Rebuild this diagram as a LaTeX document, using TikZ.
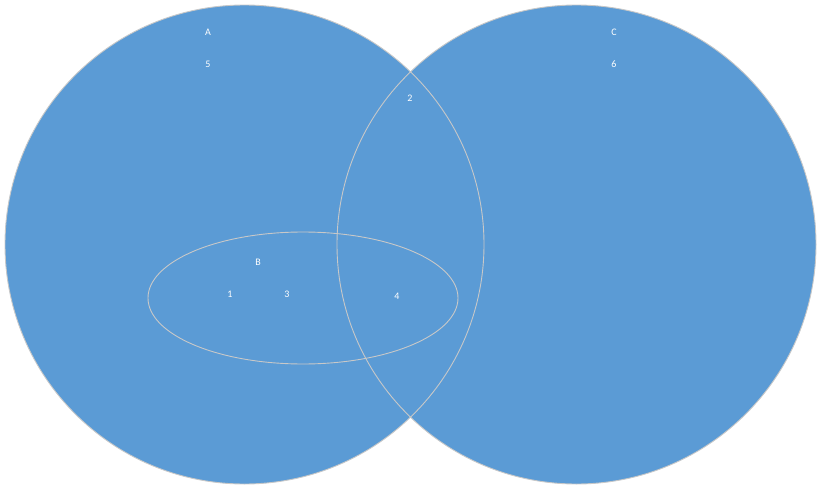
\documentclass[tikz,border=0pt]{standalone}
\usepackage{fontspec}
\setmainfont{Carlito}
\usepackage{xcolor}
\usepackage{tikz}
\usetikzlibrary{positioning}
\definecolor{setblue}{HTML}{5B9BD5}
\definecolor{setedge}{HTML}{C8C8C8}

\begin{document}
\begin{tikzpicture}[x=1pt, y=-1pt,
    setfill/.style={fill=setblue},
    setline/.style={draw=setedge, line width=0.9pt},
    lbl/.style={text=white, font=\fontsize{10}{12}\selectfont, inner sep=0pt}
]
\useasboundingbox (0,0) rectangle (823,490);
% filled sets
\fill[setfill] (244.5,244.5) circle (239.5);
\fill[setfill] (576.5,244.5) circle (239.5);
% outlines
\draw[setline] (244.5,244.5) circle (239.5);
\draw[setline] (576.5,244.5) circle (239.5);
\draw[setline] (303,298) ellipse (155 and 66);
% labels
\node[lbl] (a) at (208,32) {A};
\node[lbl] (n5) at (208,64) {5};
\node[lbl] (c) at (614,32) {C};
\node[lbl] (n6) at (614,64) {6};
\node[lbl] (n2) at (410,98) {2};
\node[lbl] (b) at (258,262) {B};
\node[lbl] (n1) at (230,294) {1};
\node[lbl] (n3) at (287,294) {3};
\node[lbl] (n4) at (397,296) {4};
\end{tikzpicture}
\end{document}
